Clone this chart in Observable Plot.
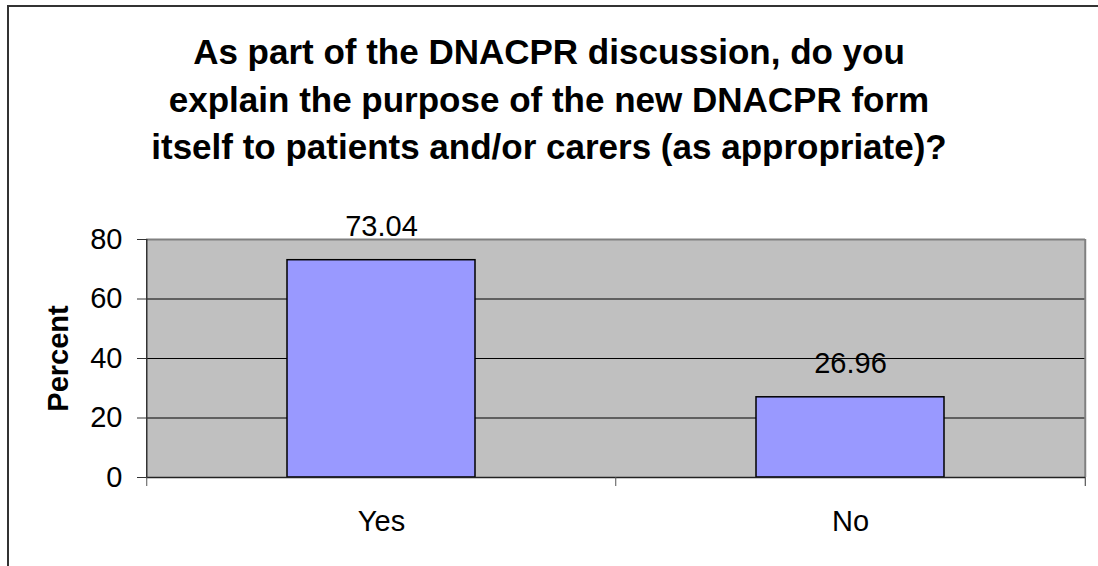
<!DOCTYPE html>
<html><head><meta charset="utf-8">
<script src="https://cdn.jsdelivr.net/npm/d3@7"></script>
<script src="https://cdn.jsdelivr.net/npm/@observablehq/plot@0.6"></script>
<style>
body{margin:0;background:#fff;width:1098px;height:566px;overflow:hidden;position:relative;font-family:"Liberation Sans",Arial,sans-serif;}
#frame{position:absolute;left:7px;top:5px;width:1200px;height:700px;border-left:2px solid #333;border-top:2px solid #333;}
#title{position:absolute;left:0;width:1098px;top:28px;text-align:center;font-weight:bold;font-size:35px;line-height:47.5px;color:#000;}
#chart{position:absolute;left:0;top:170px;}
</style></head><body>
<div id="frame"></div>
<div id="title">As part of the DNACPR discussion, do you<br>explain the purpose of the new DNACPR form<br>itself to patients and/or carers (as appropriate)?</div>
<div id="chart"></div>
<script>
const categories = ["Yes", "No"];
const percents = [73.04, 26.96];
const yTicks = [0, 20, 40, 60, 80];
const gridValues = [20, 40, 60];
const yLabel = "Percent";

const data = categories.map((c, i) => ({category: c, percent: percents[i]}));
const W = 1098, H = 396, ML = 146, MR = 13, MT = 69, MB = 89;
const step = (W - ML - MR) / categories.length;
const font = '"Liberation Sans", Arial, sans-serif';
const fs = 29;

const plot = Plot.plot({
  width: W, height: H,
  marginLeft: ML, marginRight: MR, marginTop: MT, marginBottom: MB,
  style: {fontFamily: font, fontSize: fs + "px", color: "#000", background: "transparent", overflow: "visible"},
  x: {domain: categories, paddingInner: 0.6, paddingOuter: 0.3, label: null},
  y: {domain: [0, 80], label: null},
  marks: [
    Plot.frame({fill: "#C0C0C0", stroke: null}),
    Plot.ruleY(gridValues, {stroke: "#000", strokeWidth: 1}),
    Plot.ruleY([80], {stroke: "#808080", strokeWidth: 2}),
    Plot.ruleX([categories[categories.length - 1]], {dx: step / 2, y1: 0, y2: 80, stroke: "#808080", strokeWidth: 2}),
    Plot.barY(data, {x: "category", y: "percent", fill: "#9999FF", stroke: "#000", strokeWidth: 1.5}),
    Plot.ruleY([0], {stroke: "#222", strokeWidth: 1.5}),
    Plot.ruleX([categories[0]], {dx: -step / 2, y1: 0, y2: 80, stroke: "#333", strokeWidth: 1.5}),
    Plot.axisY(yTicks, {tickSize: 9, tickPadding: 15, fontSize: fs, stroke: "#333", label: null, tickFormat: d => d}),
    Plot.axisX(categories, {tickSize: 9, tickFormat: () => "", dx: -step / 2, stroke: "#555", label: null}),
    Plot.axisX([categories[categories.length - 1]], {tickSize: 9, tickFormat: () => "", dx: step / 2, stroke: "#333", label: null}),
    Plot.axisX(categories, {tickSize: 0, tickPadding: 33, fontSize: fs, label: null}),
    Plot.text(data, {x: "category", y: "percent", text: d => d.percent.toFixed(2), dy: -24, lineAnchor: "bottom", fontSize: fs, fill: "#000"}),
    Plot.text([yLabel], {frameAnchor: "left", text: d => d, rotate: -90, dx: -88, textAnchor: "middle", lineAnchor: "middle", fontSize: fs, fontWeight: "bold", fill: "#000"})
  ]
});
document.getElementById("chart").appendChild(plot);
</script>
</body></html>
